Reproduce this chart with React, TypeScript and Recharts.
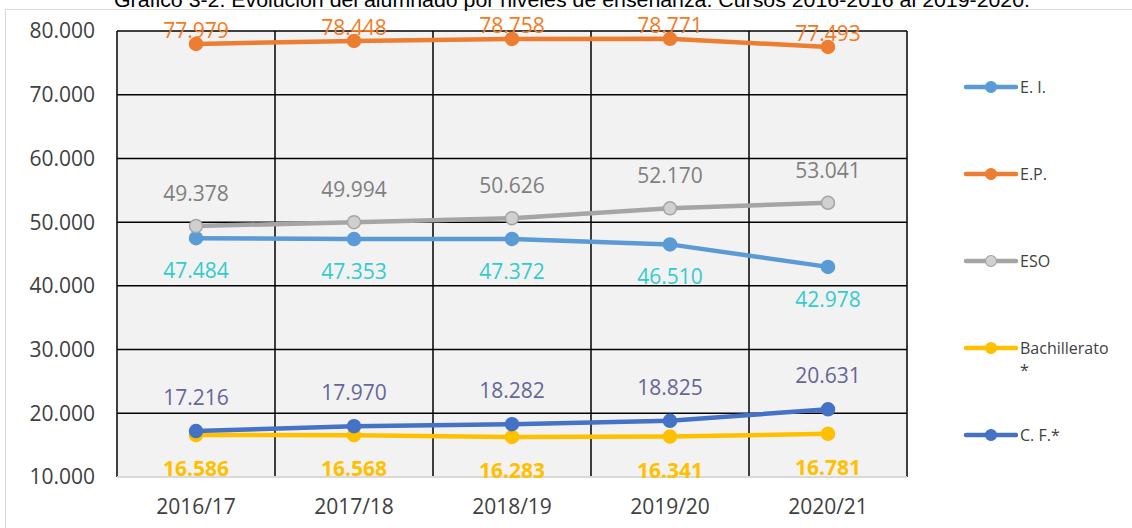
import { LineChart, Line, XAxis, YAxis, CartesianGrid } from 'recharts';

const cursos = ['2016/17', '2017/18', '2018/19', '2019/20', '2020/21'];
const ei = [47484, 47353, 47372, 46510, 42978];
const ep = [77979, 78448, 78758, 78771, 77493];
const eso = [49378, 49994, 50626, 52170, 53041];
const bach = [16586, 16568, 16283, 16341, 16781];
const cf = [17216, 17970, 18282, 18825, 20631];
const yTicks = [10000, 20000, 30000, 40000, 50000, 60000, 70000, 80000];

const data = cursos.map((curso, i) => ({
  curso,
  ei: ei[i],
  ep: ep[i],
  eso: eso[i],
  bach: bach[i],
  cf: cf[i],
}));

const FONT = '"Open Sans", "Noto Sans", sans-serif';
const TITLE = 'Gráfico 3-2. Evolución del alumnado por niveles de enseñanza. Cursos 2016-2016 al 2019-2020.';

const fmt = (v: number) => {
  const s = String(Math.round(v));
  return s.replace(/\B(?=(\d{3})+(?!\d))/g, '.');
};

interface SeriesDef {
  key: string;
  name: string;
  color: string;
  labelColor: string;
  labelDy: number;
  bold?: boolean;
  dotFill?: string;
}

const series: SeriesDef[] = [
  { key: 'ei', name: 'E. I.', color: '#5B9BD5', labelColor: '#33CCCC', labelDy: 40 },
  { key: 'ep', name: 'E.P.', color: '#ED7D31', labelColor: '#F57A22', labelDy: -6 },
  { key: 'eso', name: 'ESO', color: '#A5A5A5', labelColor: '#7F7F7F', labelDy: -25, dotFill: '#D0D0D0' },
  { key: 'bach', name: 'Bachillerato *', color: '#FFC000', labelColor: '#FFC000', labelDy: 41, bold: true },
  { key: 'cf', name: 'C. F.*', color: '#4472C4', labelColor: '#666699', labelDy: -26 },
];

function makeLabel(s: SeriesDef) {
  return (props: any) => {
    const { x, y, value, index } = props;
    return (
      <text
        key={`${s.key}-${index}`}
        x={x}
        y={y + s.labelDy}
        textAnchor="middle"
        fill={s.labelColor}
        fontSize={21}
        fontWeight={s.bold ? 700 : 400}
        fontFamily={FONT}
      >
        {fmt(value)}
      </text>
    );
  };
}

function LegendBox() {
  return (
    <div style={{ fontFamily: FONT, fontSize: 16, color: '#404040' }}>
      {series.map((s) => (
        <div key={s.key} style={{ height: 87, display: 'flex', alignItems: 'flex-start' }}>
          <svg width={56} height={20} style={{ flex: 'none' }}>
            <line x1={4} y1={10} x2={54} y2={10} stroke={s.color} strokeWidth={4.5} strokeLinecap="round" />
            <circle cx={29} cy={10} r={5.5} fill={s.dotFill ?? s.color} stroke={s.color} strokeWidth={1.2} />
          </svg>
          <span style={{ lineHeight: '22px', width: 100, marginTop: -1, marginLeft: 2 }}>{s.name}</span>
        </div>
      ))}
    </div>
  );
}

export default function App() {
  return (
    <div
      style={{
        position: 'fixed',
        left: 0,
        top: 0,
        width: 1132,
        height: 528,
        overflow: 'hidden',
        background: '#fff',
      }}
    >
      <div
        style={{
          position: 'absolute',
          left: 5,
          top: 9,
          width: 1140,
          height: 530,
          border: '1px solid #d9d9d9',
        }}
      />
      <div style={{ position: 'absolute', left: 0, top: 0 }}>
        <LineChart
          width={1132}
          height={528}
          data={data}
          margin={{ top: 31, right: 225, bottom: 21, left: 17 }}
        >
          <CartesianGrid
            fill="#F2F2F2"
            stroke="#000"
            strokeWidth={1.5}
            verticalCoordinatesGenerator={({ offset }: any) =>
              Array.from({ length: cursos.length + 1 }, (_, i) => offset.left + (i * offset.width) / cursos.length)
            }
            horizontalCoordinatesGenerator={({ offset }: any) =>
              Array.from({ length: yTicks.length - 1 }, (_, i) => offset.top + (i * offset.height) / (yTicks.length - 1))
            }
          />
          <XAxis
            dataKey="curso"
            height={30}
            padding={{ left: 79, right: 79 }}
            axisLine={{ stroke: '#D9D9D9', strokeWidth: 2 }}
            tickLine={false}
            tickSize={0}
            tickMargin={22}
            tick={{ fill: '#404040', fontSize: 21, fontFamily: FONT }}
          />
          <YAxis
            type="number"
            width={100}
            domain={[10000, 80000]}
            ticks={yTicks}
            tickFormatter={fmt}
            axisLine={false}
            tickLine={false}
            tickSize={0}
            tickMargin={22}
            tick={{ fill: '#404040', fontSize: 21, fontFamily: FONT }}
          />
          {series.map((s) => (
            <Line
              key={s.key}
              type="linear"
              dataKey={s.key}
              name={s.name}
              stroke={s.color}
              strokeWidth={4.5}
              dot={{ r: 6.5, fill: s.dotFill ?? s.color, stroke: s.color, strokeWidth: 1.5 }}
              activeDot={false}
              label={makeLabel(s)}
              isAnimationActive={false}
            />
          ))}
        </LineChart>
      </div>
      <div style={{ position: 'absolute', left: 962, top: 77, width: 170 }}>
        <LegendBox />
      </div>
      <svg
        width={1132}
        height={14}
        style={{ position: 'absolute', left: 0, top: 0, display: 'block' }}
      >
        <text
          x={572}
          y={6.5}
          textAnchor="middle"
          textLength={916}
          lengthAdjust="spacingAndGlyphs"
          fontFamily='"Liberation Sans", Arial, sans-serif'
          fontSize={20}
          fill="#000"
        >
          {TITLE}
        </text>
      </svg>
    </div>
  );
}
